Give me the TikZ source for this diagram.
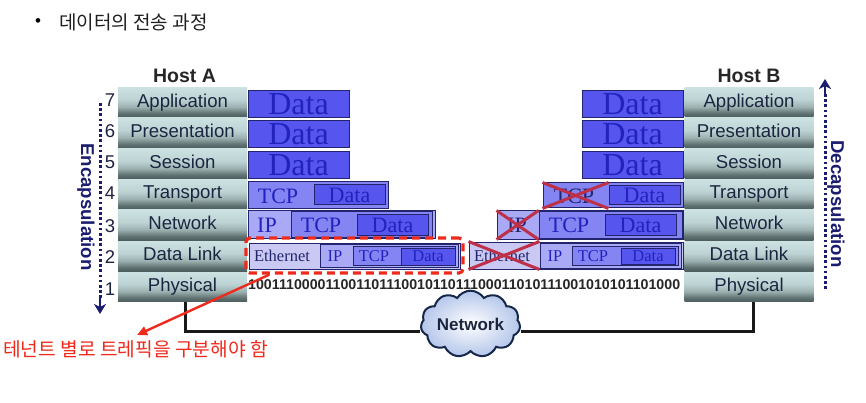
\documentclass[tikz,border=0pt]{standalone}
\usepackage{fontspec}
\setmainfont{Liberation Sans}
\newfontfamily\serifb{Liberation Serif}
\newfontfamily\krfont{Noto Sans CJK KR}
\usetikzlibrary{shapes.symbols,arrows.meta}
\definecolor{navyt}{HTML}{1A1C6E}
\definecolor{labelt}{HTML}{1C2540}
\definecolor{edge}{HTML}{23246E}
\definecolor{dataf}{HTML}{5656EE}
\definecolor{tcpf}{HTML}{8484F2}
\definecolor{ipf}{HTML}{A9A9F6}
\definecolor{ethf}{HTML}{C9C9F4}
\definecolor{datat}{HTML}{2222BE}
\definecolor{redl}{HTML}{EE2A1C}
\definecolor{crossr}{HTML}{BE3048}
\definecolor{cloudb}{HTML}{B4C6EA}
\definecolor{cloude}{HTML}{16284A}
\definecolor{ls1}{HTML}{4E5E5E}
\definecolor{ls2}{HTML}{5E7070}
\definecolor{ls3}{HTML}{9CB0B0}
\definecolor{ls4}{HTML}{BED4D4}
\definecolor{ls5}{HTML}{CCE2E2}
\pgfdeclareverticalshading{layershade}{100bp}{
 color(0bp)=(ls1);
 color(25bp)=(ls1);
 color(31bp)=(ls2);
 color(42bp)=(ls3);
 color(55bp)=(ls4);
 color(75bp)=(ls5);
 color(100bp)=(ls5)}
\tikzset{
 layerbox/.style={shading=layershade,minimum width=129pt,inner sep=0pt,font=\fontsize{18.6}{19}\selectfont,text=labelt},
 numlabel/.style={font=\fontsize{18.5}{19}\selectfont,text=labelt,inner sep=0pt},
 hostlabel/.style={font=\fontsize{19.5}{20}\bfseries\selectfont,text=black!85,inner sep=0pt},
 sidelabel/.style={font=\fontsize{18.6}{19}\bfseries\selectfont,text=navyt,inner sep=0pt,rotate=-90},
 pkt/.style={draw=edge,line width=1pt,inner sep=0pt,text=datat},
 bigtext/.style={font=\fontsize{32}{32}\serifb\selectfont},
 midtext/.style={font=\fontsize{22}{22}\serifb\selectfont},
 smalltext/.style={font=\fontsize{22}{22}\serifb\selectfont},
 tinytext/.style={font=\fontsize{16.5}{17}\serifb\selectfont},
 crossline/.style={draw=crossr,line width=3pt},
 dotarrow/.style={draw=navyt,line width=3pt,dash pattern=on 2.6pt off 2.6pt},
 headarrow/.style={draw=navyt,line width=2pt,-{Stealth[length=10pt,width=12pt,inset=3pt]}},
 wire/.style={draw=black!90,line width=3pt},
 ann/.style={font=\fontsize{19.2}{19}\krfont\selectfont,text=redl,inner sep=0pt},
 topnote/.style={font=\fontsize{19}{19}\krfont\selectfont,text=black!88,inner sep=0pt}
}
% name, x0, y0, x1, y1, fill, style, text
\newcommand{\pktbox}[8]{\node[pkt,fill=#6,#7,minimum width={#4-#2},minimum height={#5-#3}] (#1) at ({(#2+#4)/2},{(#3+#5)/2}) {#8};}
\newcommand{\layerrow}[5]{\node[layerbox,minimum height={#4-#3}] (#1) at (#2,{(#3+#4)/2}) {\raisebox{2.5pt}{\vphantom{Ap}#5}};}
\newcommand{\bigdata}{\raisebox{-1.5pt}{Data}}
\begin{document}
\begin{tikzpicture}[x=1pt,y=-1pt]
\useasboundingbox (0,0) rectangle (866,403);
\fill[white] (0,0) rectangle (866,403);

\node[inner sep=0pt,font=\fontsize{17}{17}\selectfont] (bul) at (38,23) {•};
\node[topnote,anchor=west] (ttl) at (59,22) {데이터의 전송 과정};

% Host A
\node[hostlabel] (hosta) at (184.5,76) {Host A};
\layerrow{a7}{182.5}{87.5}{117}{Application}
\layerrow{a6}{182.5}{118}{148}{Presentation}
\layerrow{a5}{182.5}{149}{178.5}{Session}
\layerrow{a4}{182.5}{179.5}{209}{Transport}
\layerrow{a3}{182.5}{210}{240}{Network}
\layerrow{a2}{182.5}{241}{271}{Data Link}
\layerrow{a1}{182.5}{272}{301.5}{Physical}
\foreach \n/\y in {7/100,6/131,5/162,4/193,3/226,2/257,1/289}
  \node[numlabel] (na\n) at (110,\y) {\n};

% Host B
\node[hostlabel] (hostb) at (749,76) {Host B};
\layerrow{b7}{749}{87.5}{117}{Application}
\layerrow{b6}{749}{118}{148}{Presentation}
\layerrow{b5}{749}{149}{178.5}{Session}
\layerrow{b4}{749}{179.5}{209}{Transport}
\layerrow{b3}{749}{210}{240}{Network}
\layerrow{b2}{749}{241}{271}{Data Link}
\layerrow{b1}{749}{272}{301.5}{Physical}

% side arrows
\node[sidelabel] (enc) at (86,207) {Encapsulation};
\node[sidelabel] (dec) at (836,204) {Decapsulation};
\coordinate (ea0) at (100,103); \coordinate (ea1) at (100,298); \coordinate (ea2) at (100,314);
\coordinate (da0) at (825,289); \coordinate (da1) at (825,94);  \coordinate (da2) at (825,79);
\draw[dotarrow] (ea0) -- (ea1);
\draw[headarrow] (ea1) -- (ea2);
\draw[dotarrow] (da0) -- (da1);
\draw[headarrow] (da1) -- (da2);

% Left stack
\pktbox{ld7}{248}{91}{349}{117.5}{dataf}{bigtext}{\bigdata}
\pktbox{ld6}{248}{121}{349}{148}{dataf}{bigtext}{\bigdata}
\pktbox{ld5}{248}{152}{349}{179}{dataf}{bigtext}{\bigdata}
\pktbox{lt4}{248}{182}{388}{208.5}{tcpf}{midtext}{}
\node[midtext,text=datat,inner sep=0pt] (lt4t) at (278,196) {TCP};
\pktbox{ld4}{314}{185}{385}{205}{dataf}{smalltext}{Data}
\pktbox{li3}{248}{211}{435}{238}{ipf}{midtext}{}
\node[midtext,text=datat,inner sep=0pt] (li3t) at (267,225) {IP};
\pktbox{lt3}{291}{212}{432}{237}{tcpf}{midtext}{}
\node[midtext,text=datat,inner sep=0pt] (lt3t) at (321,225) {TCP};
\pktbox{ld3}{357}{215}{428}{235}{dataf}{smalltext}{Data}
\pktbox{le2}{249}{243}{460}{269}{ethf}{tinytext}{}
\node[tinytext,text=edge,inner sep=0pt] (le2t) at (282,256) {Ethernet};
\pktbox{li2}{320}{244}{458}{267}{ipf}{tinytext}{}
\node[tinytext,text=datat,inner sep=0pt] (li2t) at (335,256) {IP};
\pktbox{lt2}{353}{246}{455}{265}{tcpf}{tinytext}{}
\node[tinytext,text=datat,inner sep=0pt] (lt2t) at (374,256) {TCP};
\pktbox{ld2}{401}{248}{455}{265}{dataf}{tinytext}{Data}

% Right stack
\pktbox{rd7}{582}{91}{683}{117.5}{dataf}{bigtext}{\bigdata}
\pktbox{rd6}{582}{121}{683}{148}{dataf}{bigtext}{\bigdata}
\pktbox{rd5}{582}{152}{683}{179}{dataf}{bigtext}{\bigdata}
\pktbox{rt4}{543}{183}{683}{208}{tcpf}{midtext}{}
\node[midtext,text=edge,inner sep=0pt] (rt4t) at (574,196) {TCP};
\pktbox{rd4}{609}{186}{680}{205}{dataf}{smalltext}{Data}
\pktbox{ri3}{497}{211}{683}{239}{ipf}{midtext}{}
\node[midtext,text=edge,inner sep=0pt] (ri3t) at (517,225) {IP};
\pktbox{rt3}{539}{212}{682}{238}{tcpf}{midtext}{}
\node[midtext,text=datat,inner sep=0pt] (rt3t) at (569,225) {TCP};
\pktbox{rd3}{605}{215}{676}{235}{dataf}{smalltext}{Data}
\pktbox{re2}{469}{242}{683}{269}{ethf}{tinytext}{}
\node[tinytext,text=edge,inner sep=0pt] (re2t) at (502,256) {Ethernet};
\pktbox{ri2}{540}{243}{681}{268}{ipf}{tinytext}{}
\node[tinytext,text=datat,inner sep=0pt] (ri2t) at (555,256) {IP};
\pktbox{rt2}{572}{246}{678}{265}{tcpf}{tinytext}{}
\node[tinytext,text=datat,inner sep=0pt] (rt2t) at (593,256) {TCP};
\pktbox{rd2}{621}{248}{675}{264}{dataf}{tinytext}{Data}

% red crosses
\draw[crossline] (rt4.north west) -- (rd4.west |- rt4.south);
\draw[crossline] (rt4.south west) -- (rd4.west |- rt4.north);
\draw[crossline] (ri3.north west) -- (rt3.west |- ri3.south);
\draw[crossline] (ri3.south west) -- (rt3.west |- ri3.north);
\draw[crossline] (re2.north west) -- (ri2.west |- re2.south);
\draw[crossline] (re2.south west) -- (ri2.west |- re2.north);

% bits
\node[inner sep=0pt,anchor=west,font=\fontsize{14.2}{14}\bfseries\selectfont,text=black!85] (bits) at (248,285) {10011100001100110111001011011100011010111001010101101000};

% cloud + wires
\node[cloud,cloud puffs=11,cloud puff arc=115,aspect=1.75,inner color=white,outer color=cloudb,draw=cloude,line width=2pt,minimum width=98pt,minimum height=57pt,inner sep=0pt,text=labelt,font=\fontsize{17}{17}\bfseries\selectfont] (net) at (470.5,324) {Network};
\draw[wire] ([xshift=2.5pt]a1.south) |- ([yshift=-7pt]net.west);
\draw[wire] ([xshift=4pt]b1.south) |- ([yshift=-7pt]net.east);

% red highlight
\node[draw=redl,line width=3.2pt,dash pattern=on 8pt off 5pt,rounded corners=4pt,minimum width=217pt,minimum height=35pt,inner sep=0pt] (hl) at (354.5,255.5) {};
\coordinate (tip) at (137,335);
\draw[draw=redl,line width=2.4pt,-{Triangle[length=10pt,width=9pt]}] ([xshift=25pt]hl.south west) -- (tip);
\node[ann,anchor=west] (note) at (3,349) {테넌트 별로 트레픽을 구분해야 함};
\end{tikzpicture}
\end{document}
